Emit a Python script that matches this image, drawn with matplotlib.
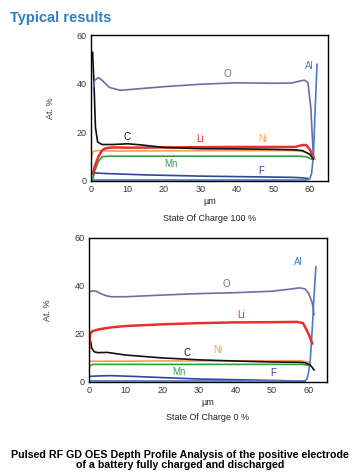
import matplotlib
matplotlib.use("Agg")
import matplotlib.pyplot as plt
import numpy as np

plt.rcParams['font.family'] = ['Liberation Sans', 'DejaVu Sans']

# --- State Of Charge 100 % ---
o100_x = [0.6, 1, 2, 3, 5, 8, 12, 20, 30, 40, 50, 55, 57, 58.5, 59.5, 60.3, 61]
o100_y = [38, 41.5, 42.5, 41.5, 38.5, 37.3, 37.8, 38.8, 39.8, 40.4, 40.2, 40.3, 41, 41.5, 40.5, 30, 10]
c100_x = [0.1, 0.4, 0.8, 1.2, 1.8, 3, 6, 10, 14, 20, 30, 40, 50, 56, 58, 60, 61]
c100_y = [50, 53, 40, 22, 16, 15, 15, 15.3, 14.8, 13.8, 13.3, 13.2, 13, 12.8, 12.5, 11, 9]
li100_x = [0.5, 1, 2, 3, 4, 6, 10, 20, 30, 40, 50, 56, 58, 59, 60, 61]
li100_y = [3, 6, 10, 12.5, 13.5, 13.8, 13.7, 13.8, 13.9, 14, 14, 14, 14.8, 14.8, 13, 10]
ni100_x = [0, 0.5, 1.5, 3, 6, 20, 40, 55, 58, 60, 61.5]
ni100_y = [9, 12, 12.5, 12.5, 12.3, 12.4, 12.5, 12.5, 12.3, 11, 9]
mn100_x = [0.5, 1, 2, 3, 5, 20, 40, 57, 59, 60.5]
mn100_y = [1, 4, 8, 10, 10.2, 10.2, 10.2, 10.2, 10, 9]
f100_x = [0.5, 1, 5, 15, 30, 45, 55, 58, 59.5]
f100_y = [3.5, 3.3, 3, 2.5, 2, 1.7, 1.5, 1.3, 1]
al100_x = [0, 30, 59, 60, 60.5, 61, 61.5, 62]
al100_y = [0.4, 0.4, 0.4, 0.8, 3, 10, 30, 48]

# --- State Of Charge 0 % ---
o0_x = [0.2, 1, 2, 3, 4.5, 6, 10, 20, 30, 40, 50, 55, 57.5, 59, 60, 61, 61.5]
o0_y = [37.5, 38, 37.8, 37, 36, 35.5, 35.5, 36.2, 36.8, 37.2, 37.8, 38.7, 39.2, 38.8, 37, 33, 28]
li0_x = [0, 0.3, 1, 3, 6, 10, 20, 30, 40, 50, 57, 58.5, 60, 61]
li0_y = [12, 20, 21.2, 22, 22.7, 23.3, 24, 24.5, 24.8, 24.9, 25, 24.5, 20, 16]
c0_x = [0, 0.3, 0.8, 1.5, 2.5, 5, 10, 20, 30, 40, 50, 57, 59, 60.5, 61.5]
c0_y = [22, 18, 14, 12.5, 12.2, 12.3, 11.2, 10, 9.2, 8.7, 8.3, 8.2, 8, 7, 5]
ni0_x = [0, 20, 40, 58, 60.5]
ni0_y = [8.6, 8.7, 8.8, 8.8, 8]
mn0_x = [0, 1, 20, 40, 58, 60]
mn0_y = [6.5, 7.3, 7.3, 7.3, 7.3, 7]
f0_x = [0, 3, 6, 12, 20, 30, 40, 50, 57, 59]
f0_y = [2.3, 2.5, 2.6, 2.3, 1.8, 1.2, 0.9, 0.6, 0.4, 0.3]
al0_x = [0, 30, 59, 59.5, 60, 60.5, 61, 61.5, 62]
al0_y = [0.4, 0.4, 0.4, 1, 4, 10, 22, 36, 48]

colors = {'O': '#6e6ea6', 'C': '#111111', 'Li': '#e8302a', 'Ni': '#f0a050',
          'Mn': '#2fa040', 'F': '#34449a', 'Al': '#4a7cc4'}

top = {
    'series': [('Ni', ni100_x, ni100_y), ('Mn', mn100_x, mn100_y), ('F', f100_x, f100_y),
               ('Al', al100_x, al100_y), ('Li', li100_x, li100_y), ('C', c100_x, c100_y),
               ('O', o100_x, o100_y)],
    'labels': {'O': (37.5, 44), 'Al': (60, 47.5), 'C': (9.8, 18), 'Li': (30, 17.4),
               'Ni': (47, 17.4), 'Mn': (21.8, 7), 'F': (46.8, 4)},
    'caption': 'State Of Charge 100 %',
    'caption_y': 0.541,
}
bottom = {
    'series': [('Ni', ni0_x, ni0_y), ('Mn', mn0_x, mn0_y), ('F', f0_x, f0_y),
               ('Al', al0_x, al0_y), ('C', c0_x, c0_y), ('Li', li0_x, li0_y),
               ('O', o0_x, o0_y)],
    'labels': {'O': (37.6, 41), 'Al': (57.3, 50), 'C': (26.8, 12.2), 'Li': (41.6, 27.7),
               'Ni': (35.3, 13.4), 'Mn': (24.5, 4.3), 'F': (50.2, 3.9)},
    'caption': 'State Of Charge 0 %',
    'caption_y': 0.120,
}

fig = plt.figure(figsize=(3.6, 4.75), dpi=100)
fig.text(0.028, 0.963, 'Typical results', color='#2f7fc1', fontsize=10.5,
         fontweight='bold', va='center')

positions = [[0.253, 0.619, 0.658, 0.307], [0.247, 0.196, 0.661, 0.303]]
for pos, panel in zip(positions, [top, bottom]):
    ax = fig.add_axes(pos)
    for name, x, y in panel['series']:
        lw = 1.8 if name == 'Li' else 1.2
        ax.plot(x, y, color=colors[name], lw=lw)
    for name, (lx, ly) in panel['labels'].items():
        ax.text(lx, ly, name, color=colors[name], fontsize=7, ha='center', va='center')
    ax.set_xlim(0, 65)
    ax.set_ylim(0, 60)
    ax.set_xticks([0, 10, 20, 30, 40, 50, 60])
    ax.set_yticks([0, 20, 40, 60])
    ax.tick_params(length=0, labelsize=6.5, pad=3, labelcolor='#333333')
    for s in ax.spines.values():
        s.set_linewidth(1.0)
    ax.set_ylabel('At. %', fontsize=6.5, labelpad=16, color='#333333')
    ax.set_xlabel('µm', fontsize=6.5, labelpad=2, color='#222222')
    fig.text(pos[0] + pos[2] / 2, panel['caption_y'], panel['caption'], fontsize=6.5,
             ha='center', va='center', color='#222222')

fig.text(0.5, 0.031, 'Pulsed RF GD OES Depth Profile Analysis of the positive electrode\n'
         'of a battery fully charged and discharged', ha='center', va='center',
         fontsize=7.7, fontweight='bold', linespacing=1.05)

plt.savefig('out.png', dpi=100)
